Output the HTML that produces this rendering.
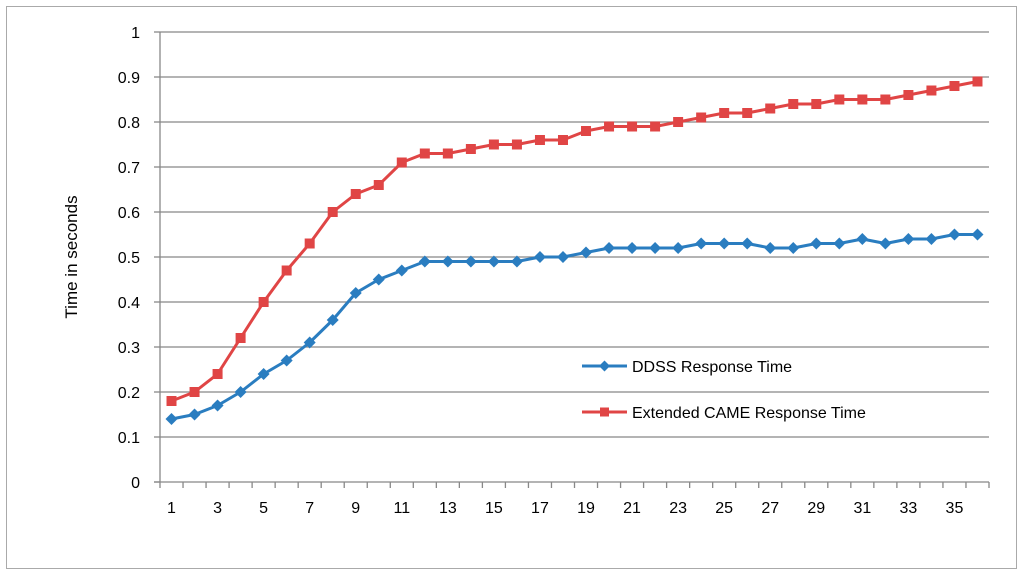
<!DOCTYPE html>
<html><head><meta charset="utf-8"><style>
body{margin:0;background:#fff;}
svg{display:block;font-family:"Liberation Sans",sans-serif;}
</style></head><body>
<svg id="c" width="1024" height="576">
<rect x="6.5" y="6.5" width="1010" height="562" fill="#fff" stroke="#aaa"/>
<g id="grid"></g><g id="axes"></g><g id="series"></g>
<text transform="translate(77,257) rotate(-90)" text-anchor="middle" font-size="17" fill="#000">Time in seconds</text>
<g>
<g>
<line x1="582" y1="366" x2="627" y2="366" stroke="#2a7dc0" stroke-width="3"/>
<path d="M604.5 360.5 L610 366 L604.5 371.5 L599 366Z" fill="#2a7dc0"/>
<text x="632" y="372" font-size="16">DDSS Response Time</text></g>
<g>
<line x1="582" y1="412" x2="627" y2="412" stroke="#e04545" stroke-width="3"/>
<rect x="600" y="407.5" width="9" height="9" fill="#e04545"/>
<text x="632" y="418" font-size="16">Extended CAME Response Time</text></g>
</g>
</svg>
<script>
const categories=[];for(let i=1;i<=36;i++)categories.push(i);
const ddss=[.14,.15,.17,.20,.24,.27,.31,.36,.42,.45,.47,.49,.49,.49,.49,.49,.50,.50,.51,.52,.52,.52,.52,.53,.53,.53,.52,.52,.53,.53,.54,.53,.54,.54,.55,.55];
const came=[.18,.20,.24,.32,.40,.47,.53,.60,.64,.66,.71,.73,.73,.74,.75,.75,.76,.76,.78,.79,.79,.79,.80,.81,.82,.82,.83,.84,.84,.85,.85,.85,.86,.87,.88,.89];
const yTicks=[0,0.1,0.2,0.3,0.4,0.5,0.6,0.7,0.8,0.9,1];
const yLabels=["0","0.1","0.2","0.3","0.4","0.5","0.6","0.7","0.8","0.9","1"];
const X0=160,X1=989,Y0=482,Y1=32;
const bw=(X1-X0)/categories.length;
const xs=i=>X0+(i+0.5)*bw;
const ys=v=>Y0-(v-0)/(1-0)*(Y0-Y1);
const NS="http://www.w3.org/2000/svg";
function mk(t,a,p){const e=document.createElementNS(NS,t);for(const k in a)e.setAttribute(k,a[k]);p.appendChild(e);return e;}
const grid=document.getElementById('grid'),axes=document.getElementById('axes'),ser=document.getElementById('series');
yTicks.forEach((v,i)=>{
 if(v>0){const g=mk('line',{x1:X0,x2:X1,y1:ys(v),y2:ys(v),stroke:'#888','stroke-width':1.3},grid);
 
 }
 mk('line',{x1:X0-6,x2:X0,y1:ys(v),y2:ys(v),stroke:'#888','stroke-width':1.3},axes);
 const t=mk('text',{x:X0-20,y:ys(v)+6,'text-anchor':'end','font-size':16},axes);t.textContent=yLabels[i];
 
 
});
mk('line',{x1:X0,x2:X0,y1:Y1,y2:Y0+6,stroke:'#888','stroke-width':1.3},axes);
mk('line',{x1:X0-6,x2:X1,y1:Y0,y2:Y0,stroke:'#888','stroke-width':1.3},axes);
categories.forEach((c,i)=>{
 mk('line',{x1:X0+(i+1)*bw,x2:X0+(i+1)*bw,y1:Y0,y2:Y0+6,stroke:'#888','stroke-width':1.3},axes);
 if(i%2===0){const t=mk('text',{x:xs(i),y:Y0+31,'text-anchor':'middle','font-size':16},axes);t.textContent=c;
 
 }
});
function draw(data,color,shape,name){
 const p=mk('polyline',{points:data.map((v,i)=>xs(i)+','+ys(v)).join(' '),fill:'none',stroke:color,'stroke-width':3,'stroke-linejoin':'round'},ser);
 
 
 data.forEach((v,i)=>{const x=xs(i),y=ys(v);let m;
  if(shape==='d')m=mk('path',{d:`M${x} ${y-6}L${x+6} ${y}L${x} ${y+6}L${x-6} ${y}Z`,fill:color},ser);
  else m=mk('rect',{x:x-5,y:y-5,width:10,height:10,fill:color},ser);
  
  });
}
draw(came,'#e04545','s','came');
draw(ddss,'#2a7dc0','d','ddss');
</script>
</body></html>
